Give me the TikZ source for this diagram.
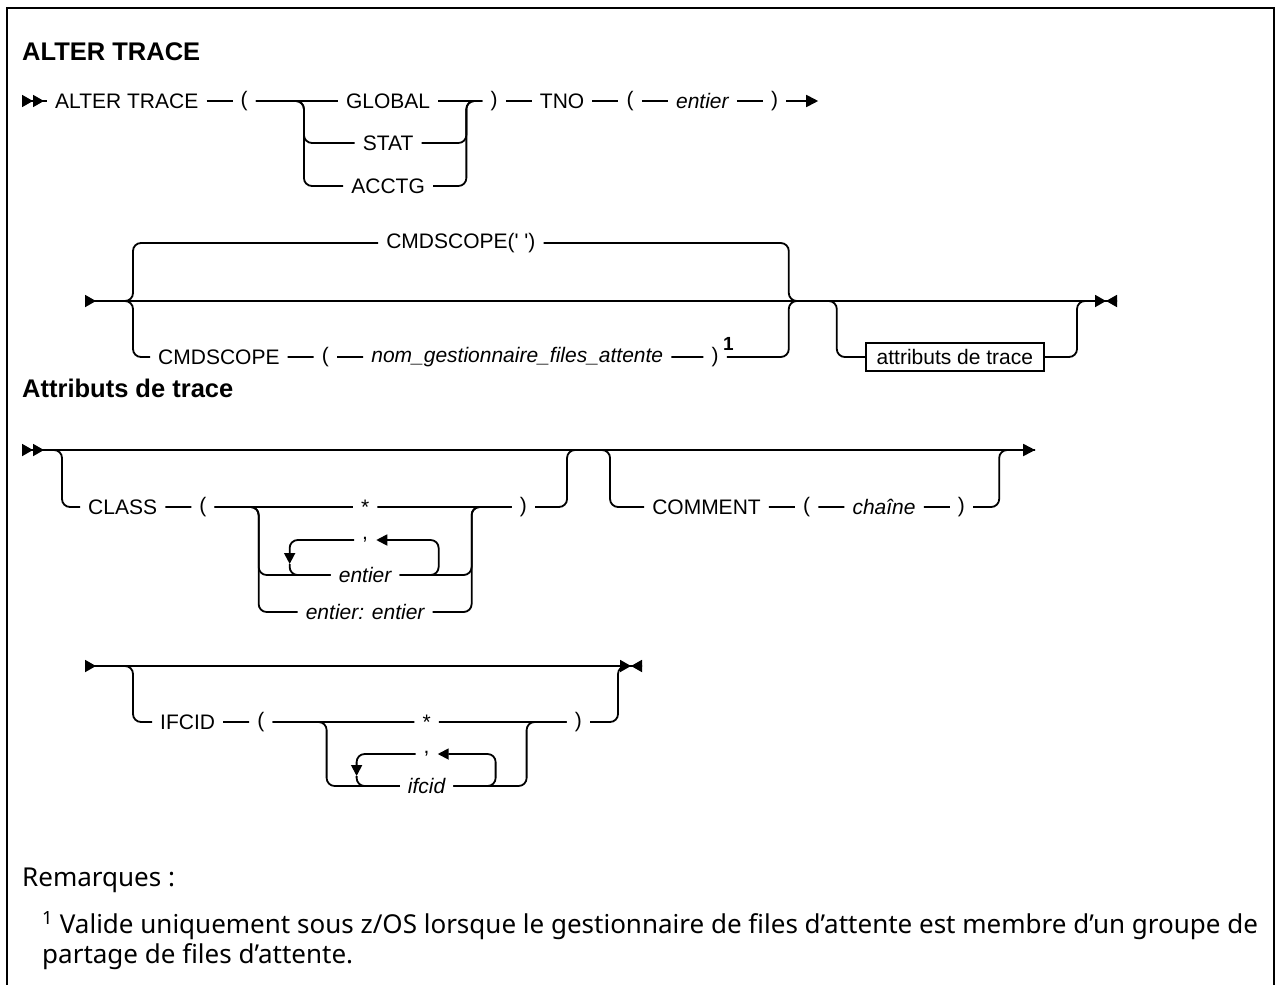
\documentclass[tikz,border=0pt]{standalone}
\usepackage{fontspec}
\setmainfont{Noto Sans}
\newfontfamily\rrfont{Liberation Sans}
\usetikzlibrary{positioning,arrows.meta,calc}

\begin{document}
\begin{tikzpicture}[
  x=1pt, y=-1pt,
  node distance=26pt,
  kw/.style={font=\rrfont\fontsize{21}{24}\selectfont, inner xsep=8pt, inner ysep=2pt},
  var/.style={kw, font=\rrfont\itshape\fontsize{21}{24}\selectfont},
  box/.style={kw, draw, line width=1.8pt, inner xsep=11pt, inner ysep=6pt},
  supnum/.style={font=\rrfont\bfseries\fontsize{19}{22}\selectfont, inner sep=0pt, anchor=south west},
  hd/.style={font=\rrfont\bfseries\fontsize{25.5}{28}\selectfont, anchor=west, inner sep=0pt},
  note/.style={font=\fontsize{26}{30}\selectfont, anchor=west, inner sep=0pt},
  rr/.style={line width=1.8pt, rounded corners=8pt},
  dblin/.style={{Triangle[reversed,length=11pt,width=12pt]Triangle[reversed,length=11pt,width=12pt]}-},
  openrow/.style={{Triangle[reversed,length=11pt,width=12pt]Triangle[reversed,length=11pt,width=12pt]}-{Triangle[length=12pt,width=12pt]}},
  closerow/.style={{Triangle[reversed,length=11pt,width=12pt]}-{Triangle[length=11pt,width=12pt]Triangle[reversed,length=11pt,width=12pt]}},
  endarr/.style={-{Triangle[length=12pt,width=12pt]}},
  looptip/.style={-{Triangle[length=11pt,width=11pt]}},
]
\useasboundingbox (0,0) rectangle (1275,985);
% frame
\draw[line width=2pt] (7,985) -- (7,8) -- (1274,8) -- (1274,985);

% ALTER TRACE
\node[hd] (h1) at (22,52) {ALTER TRACE};
\coordinate (s1) at (22,101);
\node[kw, anchor=west] (alter) at (47,101) {ALTER TRACE};
\node[kw, right=of alter] (lp1) {(};
\coordinate[right=48pt of lp1] (b1l);
\node[kw, right=34pt of b1l] (global) {GLOBAL};
\node[kw] (stat) at ($(global)+(0,42)$) {STAT};
\node[kw] (acctg) at ($(global)+(0,85)$) {ACCTG};
\coordinate[right=28pt of global] (b1r);
\node[kw, right=16pt of b1r] (rp1) {)};
\node[kw, right=of rp1] (tno) {TNO};
\node[kw, right=of tno] (lp2) {(};
\node[var, right=of lp2] (ent1) {entier};
\node[kw, right=of ent1] (rp2) {)};
\coordinate[right=32pt of rp2] (e1);
\draw[rr, dblin] (s1) -- (alter);
\draw[rr] (alter) -- (lp1) -- (global) -- (rp1) -- (tno) -- (lp2) -- (ent1) -- (rp2);
\draw[rr, endarr] (rp2) -- (e1);
\draw[rr] (lp1) -- (b1l) |- (stat);
\draw[rr] (lp1) -- (b1l) |- (acctg);
\draw[rr] (stat) -| (b1r) -- (rp1);
\draw[rr] (acctg) -| (b1r) -- (rp1);

% CMDSCOPE
\coordinate (s2) at (85,301);
\coordinate (b2l) at (133,301);
\node[kw, anchor=west] (cmds) at (150,357) {CMDSCOPE};
\node[kw, right=of cmds] (lp3) {(};
\node[var, right=of lp3] (qmgr) {nom\_gestionnaire\_files\_attente};
\node[kw, right=32pt of qmgr] (rp3) {)};
\node[supnum] (fn1) at ($(rp3.east)+(-4,-6)$) {1};
\coordinate[right=62pt of rp3] (k2);
\path (b2l) -- (k2 |- s2) coordinate[midway] (m2);
\node[kw] (cmdq) at ($(m2)+(0,-58)$) {CMDSCOPE(' ')};
\coordinate[right=48pt of k2] (k3);
\node[box, right=28pt of k3] (attr) {attributs de trace};
\coordinate[right=32pt of attr] (k4);
\coordinate[right=40pt of k4] (k5);
\draw[rr, closerow] (s2) -- (k5 |- s2);
\draw[rr] (s2) -- (b2l) |- (cmdq);
\draw[rr] (s2) -- (b2l) |- (cmds);
\draw[rr] (cmdq) -| (k2 |- s2) -- (k3 |- s2);
\draw[rr] (cmds) -- (lp3) -- (qmgr) -- (rp3) -| (k2 |- s2) -- (k3 |- s2);
\draw[rr] (k2 |- s2) -- (k3 |- s2) |- (attr);
\draw[rr] (attr) -| (k4 |- s2) -- (k5 |- s2);

% Attributs de trace
\node[hd] (h2) at (22,388) {Attributs de trace};
\coordinate (s3) at (22,450);
\coordinate (b4l) at (62,450);
\node[kw, anchor=west] (class) at (80,507) {CLASS};
\node[kw, right=of class] (lp4) {(};
\coordinate[right=44pt of lp4] (b5l);
\coordinate[right=213pt of b5l] (b5r);
\node[kw] (star1) at ($(b5l)!0.5!(b5r)$) {*};
\node[kw] (comma1) at ($(star1)+(0,33)$) {,};
\node[var] (ent2) at ($(star1)+(0,68)$) {entier};
\node[var] (entent) at ($(star1)+(0,105)$) {entier: entier};
\coordinate (l1tr) at ($(b5r)+(-33,33)$);
\coordinate (l1m) at ($(b5l)+(31,57)$);
\node[kw, right=40pt of b5r] (rp4) {)};
\coordinate[right=32pt of rp4] (k6);
\coordinate[right=43pt of k6] (k7);
\node[kw, right=34pt of k7] (comment) {COMMENT};
\node[kw, right=of comment] (lp5) {(};
\node[var, right=of lp5] (chaine) {chaîne};
\node[kw, right=of chaine] (rp5) {)};
\coordinate[right=26pt of rp5] (k8);
\coordinate[right=36pt of k8] (k9);
\draw[rr, openrow] (s3) -- (k9 |- s3);
\draw[rr] (s3) -- (b4l) |- (class);
\draw[rr] (class) -- (lp4) -- (star1) -- (rp4) -| (k6 |- s3) -- (k7 |- s3);
\draw[rr] (lp4) -- (b5l) |- (entent);
\draw[rr] (lp4) -- (b5l) |- (ent2);
\draw[rr] (entent) -| (b5r) -- (rp4);
\draw[rr] (ent2) -| (b5r) -- (rp4);
\draw[rr, looptip] (ent2) -| (l1tr) -- (comma1);
\draw[rr, looptip] (comma1) -| (l1m);
\draw[rr] (l1m) |- (ent2);
\draw[rr] (k6 |- s3) -- (k7 |- s3) |- (comment);
\draw[rr] (comment) -- (lp5) -- (chaine) -- (rp5) -| (k8 |- s3) -- (k9 |- s3);

% IFCID
\coordinate (s4) at (85,666);
\coordinate (b7l) at (133,666);
\node[kw, anchor=west] (ifcid) at (152,722) {IFCID};
\node[kw, right=of ifcid] (lp6) {(};
\coordinate[right=54pt of lp6] (b8l);
\coordinate[right=200pt of b8l] (b8r);
\node[kw] (star2) at ($(b8l)!0.5!(b8r)$) {*};
\node[kw] (comma2) at ($(star2)+(0,32)$) {,};
\node[var] (ifcv) at ($(star2)+(0,64)$) {ifcid};
\coordinate (l2tr) at ($(b8r)+(-31,32)$);
\coordinate (l2m) at ($(b8l)+(30,54)$);
\node[kw, right=40pt of b8r] (rp6) {)};
\coordinate[right=28pt of rp6] (k10);
\coordinate[right=24pt of k10] (k11);
\draw[rr, closerow] (s4) -- (k11 |- s4);
\draw[rr] (s4) -- (b7l) |- (ifcid);
\draw[rr] (ifcid) -- (lp6) -- (star2) -- (rp6) -| (k10 |- s4) -- (k11 |- s4);
\draw[rr] (lp6) -- (b8l) |- (ifcv);
\draw[rr] (ifcv) -| (b8r) -- (rp6);
\draw[rr, looptip] (ifcv) -| (l2tr) -- (comma2);
\draw[rr, looptip] (comma2) -| (l2m);
\draw[rr] (l2m) |- (ifcv);

% notes
\node[note] (rem) at (22,880) {Remarques :};
\node[note] (n1) at (42,926) {\textsuperscript{1} Valide uniquement sous z/OS lorsque le gestionnaire de files d'attente est membre d'un groupe de};
\node[note] (n2) at (42,957) {partage de files d'attente.};
\end{tikzpicture}
\end{document}
